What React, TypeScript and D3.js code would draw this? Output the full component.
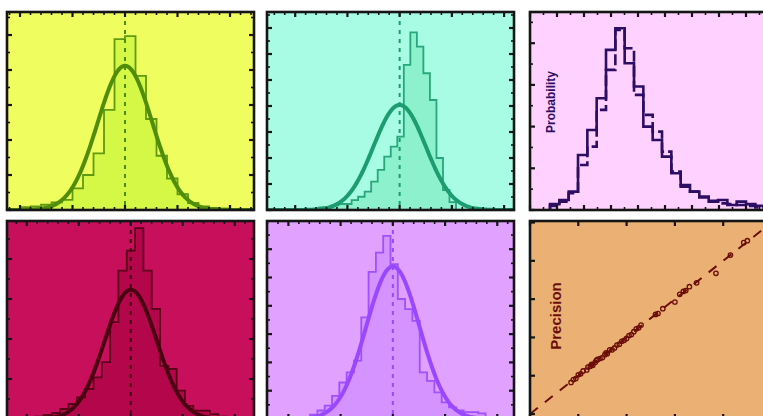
import React from "react";
import * as d3 from "d3";

const W = 763;
const H = 416;

// panel geometry (3 columns, 2 rows, right column and bottom row cut by the frame)
const colX = [7, 267, 530];
const rowY = [12, 221];
const PW = 247;
const PH = 198;

// --- panel A (yellow): histogram + gaussian fit
const aCounts = [0.08, 0.1, 0.15, 0.22, 0.29, 0.62, 1.0, 1.62, 2.86, 4.88, 4.97, 3.83, 2.6, 1.55, 0.9, 0.45, 0.2, 0.1, 0.06, 0.04];
const aBins = [-2.0, 0.2]; // first edge, width
const aFit = [0, 0.52, 4.12]; // mean, sigma, peak

// --- panel B (cyan)
const bCounts = [0.1, 0.12, 0.18, 0.23, 0.23, 0.38, 0.51, 0.71, 1.09, 1.54, 2.05, 2.44, 2.82, 5.58, 6.83, 6.28, 5.26, 4.23, 2.0, 0.77, 0.3];
const bBins = [-1.545, 0.125];
const bFit = [0, 0.5, 4.04];

// --- panel C (pink): two probability histograms
const cSolid = [0.14, 0.24, 0.44, 1.32, 1.92, 2.68, 3.84, 4.36, 3.52, 2.96, 2.0, 1.68, 1.28, 0.88, 0.6, 0.44, 0.32, 0.2, 0.24, 0.12, 0.2, 0.14, 0.1];
const cDashed = [0.1, 0.2, 0.4, 1.08, 1.52, 2.4, 3.36, 4.32, 3.88, 2.76, 2.28, 1.88, 1.4, 0.92, 0.56, 0.44, 0.3, 0.22, 0.16, 0.14, 0.12, 0.1, 0.06];
const cBins = [0.741, 0.3457];

// --- panel D (crimson)
const dCounts = [0.06, 0.1, 0.15, 0.25, 0.375, 0.54, 0.75, 1.04, 1.42, 2.42, 3.71, 4.21, 4.77, 3.71, 2.75, 1.33, 1.25, 0.71, 0.33, 0.21, 0.21, 0.12, 0.06];
const dBins = [-1.837, 0.16];
const dFit = [0, 0.5, 3.23];

// --- panel E (lavender)
const eCounts = [0.06, 0.15, 0.3, 0.47, 0.82, 1.29, 1.65, 2.06, 3.59, 5.2, 5.88, 6.47, 5.47, 4.24, 3.88, 3.47, 1.65, 1.35, 0.94, 0.59, 0.41, 0.3, 0.24, 0.24, 0.2];
const eBins = [-1.725, 0.14];
const eFit = [0, 0.51, 5.39];

// --- panel F (orange): precision scatter
const fX = [0.17, 0.18, 0.19, 0.2, 0.21, 0.22, 0.235, 0.24, 0.25, 0.255, 0.26, 0.27, 0.275, 0.28, 0.29, 0.3, 0.31, 0.315, 0.32, 0.33, 0.34, 0.35, 0.36, 0.37, 0.38, 0.39, 0.4, 0.41, 0.42, 0.43, 0.44, 0.45, 0.46, 0.52, 0.53, 0.55, 0.6, 0.62, 0.635, 0.645, 0.66, 0.69, 0.77, 0.83, 0.885, 0.9];
const fY = [0.165, 0.18, 0.185, 0.205, 0.21, 0.225, 0.23, 0.245, 0.25, 0.26, 0.255, 0.27, 0.28, 0.285, 0.29, 0.295, 0.31, 0.32, 0.315, 0.335, 0.335, 0.345, 0.36, 0.365, 0.38, 0.385, 0.395, 0.41, 0.415, 0.43, 0.445, 0.45, 0.465, 0.52, 0.525, 0.55, 0.585, 0.625, 0.64, 0.645, 0.665, 0.685, 0.735, 0.83, 0.895, 0.905];

type Sc = d3.ScaleLinear<number, number>;

function ticksOf(dom: number[], step: number) {
  const s = Math.ceil(dom[0] / step - 1e-9);
  const e = Math.floor(dom[1] / step + 1e-9);
  return d3.range(s, e + 1).map((k) => k * step);
}
const isMajor = (v: number, m: number) => Math.abs(v / m - Math.round(v / m)) < 1e-6;

function Frame(props: {
  id: string; x: number; y: number; bg: string;
  xs: Sc; ys: Sc; xt: number[]; yt: number[]; children?: React.ReactNode;
}) {
  const { id, x, y, bg, xs, ys, xt, yt } = props;
  const xx = ticksOf(xs.domain(), xt[1]);
  const yy = ticksOf(ys.domain(), yt[1]);
  const ink = "#151515";
  return (
    <g>
      <clipPath id={id}>
        <rect x={x} y={y} width={PW} height={PH} />
      </clipPath>
      <rect x={x} y={y} width={PW} height={PH} fill={bg} />
      <g clipPath={`url(#${id})`}>{props.children}</g>
      <g stroke={ink}>
        {xx.map((v, i) => {
          const L = isMajor(v, xt[0]) ? 5 : 3;
          const sw = isMajor(v, xt[0]) ? 2.2 : 1.6;
          return (
            <g key={"x" + i} strokeWidth={sw}>
              <line x1={xs(v)} x2={xs(v)} y1={y} y2={y + L} />
              <line x1={xs(v)} x2={xs(v)} y1={y + PH} y2={y + PH - L} />
            </g>
          );
        })}
        {yy.map((v, i) => {
          const L = isMajor(v, yt[0]) ? 5 : 3;
          const sw = isMajor(v, yt[0]) ? 2.2 : 1.6;
          return (
            <g key={"y" + i} strokeWidth={sw}>
              <line x1={x} x2={x + L} y1={ys(v)} y2={ys(v)} />
              <line x1={x + PW} x2={x + PW - L} y1={ys(v)} y2={ys(v)} />
            </g>
          );
        })}
      </g>
      <rect x={x} y={y} width={PW} height={PH} fill="none" stroke={ink} strokeWidth={2.6} />
    </g>
  );
}

function stepPts(counts: number[], bins: number[]): [number, number][] {
  const pts: [number, number][] = [[bins[0], 0]];
  counts.forEach((c, i) => pts.push([bins[0] + i * bins[1], c]));
  const end = bins[0] + counts.length * bins[1];
  pts.push([end, counts[counts.length - 1]]);
  pts.push([end, 0]);
  return pts;
}

function HistPanel(props: {
  id: string; col: number; row: number; xDom: number[]; yDom: number[];
  counts: number[]; bins: number[]; fit: number[];
  bg: string; fill: string; edge: string; curve: string; yt: number[];
}) {
  const x0 = colX[props.col];
  const y0 = rowY[props.row];
  const xs = d3.scaleLinear().domain(props.xDom).range([x0, x0 + PW]);
  const ys = d3.scaleLinear().domain(props.yDom).range([y0 + PH, y0]);
  const pts = stepPts(props.counts, props.bins);
  const line = d3.line<[number, number]>().x((d) => xs(d[0])).y((d) => ys(d[1])).curve(d3.curveStepAfter);
  const area = d3.area<[number, number]>().x((d) => xs(d[0])).y0(ys(0)).y1((d) => ys(d[1])).curve(d3.curveStepAfter);
  const [mu, sg, pk] = props.fit;
  const gx = d3.range(props.xDom[0], props.xDom[1], 0.02);
  const gauss = d3.line<number>().x((v) => xs(v)).y((v) => ys(pk * Math.exp(-((v - mu) ** 2) / (2 * sg * sg))));
  return (
    <Frame id={props.id} x={x0} y={y0} bg={props.bg} xs={xs} ys={ys} xt={[1, 0.2]} yt={props.yt}>
      <path d={area(pts) || ""} fill={props.fill} />
      <path d={line(pts) || ""} fill="none" stroke={props.edge} strokeWidth={1.8} />
      <line x1={xs(mu)} x2={xs(mu)} y1={y0} y2={y0 + PH} stroke={props.curve} strokeWidth={2} strokeDasharray="4 5" />
      <path d={gauss(gx) || ""} fill="none" stroke={props.curve} strokeWidth={4} strokeLinejoin="round" />
    </Frame>
  );
}

function ProbPanel() {
  const x0 = colX[2];
  const y0 = rowY[0];
  const xs = d3.scaleLinear().domain([0, PW / 27]).range([x0, x0 + PW]);
  const ys = d3.scaleLinear().domain([0, PH / 41.7]).range([y0 + PH, y0]);
  const line = d3.line<[number, number]>().x((d) => xs(d[0])).y((d) => ys(d[1])).curve(d3.curveStepAfter);
  const navy = "#2c0f64";
  return (
    <Frame id="cp" x={x0} y={y0} bg="#ffd1fe" xs={xs} ys={ys} xt={[1, 0.5]} yt={[1, 0.5]}>
      <path d={line(stepPts(cDashed, cBins)) || ""} fill="none" stroke={navy} strokeWidth={2.6} strokeDasharray="11 4" />
      <path d={line(stepPts(cSolid, cBins)) || ""} fill="none" stroke={navy} strokeWidth={2.6} />
      <text transform={`translate(${x0 + 25},${y0 + 90}) rotate(-90)`} textAnchor="middle"
        fontFamily="Liberation Sans, Arial, sans-serif" fontWeight="bold" fontSize={12} fill={navy}>
        Probability
      </text>
    </Frame>
  );
}

function PrecPanel() {
  const x0 = colX[2];
  const y0 = rowY[1];
  const xs = d3.scaleLinear().domain([0, PW / 241.5]).range([x0, x0 + PW]);
  const ys = d3.scaleLinear().domain([-0.026, 1.008]).range([y0 + PH, y0]);
  const brown = "#6b0e0a";
  return (
    <Frame id="fp" x={x0} y={y0} bg="#ebb073" xs={xs} ys={ys} xt={[0.2, 0.2]} yt={[0.2, 0.2]}>
      <line x1={xs(0)} y1={ys(0)} x2={xs(1.05)} y2={ys(1.05)} stroke={brown} strokeWidth={2} strokeDasharray="10 9" />
      {fX.map((v, i) => (
        <circle key={i} cx={xs(v)} cy={ys(fY[i])} r={2.2} fill="none" stroke={brown} strokeWidth={1.3} />
      ))}
      <text transform={`translate(${x0 + 31},${y0 + 95}) rotate(-90)`} textAnchor="middle"
        fontFamily="Liberation Sans, Arial, sans-serif" fontWeight="bold" fontSize={15} fill={brown}>
        Precision
      </text>
    </Frame>
  );
}

export default function App() {
  return (
    <svg width={W} height={H} style={{ position: "fixed", left: 0, top: 0, background: "#fff" }}>
      <HistPanel id="ap" col={0} row={0} xDom={[-2.248, 2.457]} yDom={[0, PH / 35]} yt={[1, 0.5]}
        counts={aCounts} bins={aBins} fit={aFit}
        bg="#effd5e" fill="#d5f847" edge="#5f9a10" curve="#4f8d0a" />
      <HistPanel id="bp" col={1} row={0} xDom={[-2.54, 2.19]} yDom={[0, PH / 26]} yt={[1, 0.5]}
        counts={bCounts} bins={bBins} fit={bFit}
        bg="#a7fce3" fill="#8df1cd" edge="#27a77b" curve="#1c9c6f" />
      <ProbPanel />
      <HistPanel id="dp" col={0} row={1} xDom={[-2.38, 2.37]} yDom={[0, PH / 40]} yt={[1, 0.5]}
        counts={dCounts} bins={dBins} fit={dFit}
        bg="#c70f5c" fill="#b3064b" edge="#5c0018" curve="#4a0010" />
      <HistPanel id="ep" col={1} row={1} xDom={[-2.41, 2.32]} yDom={[0, PH / 28.3]} yt={[1, 0.5]}
        counts={eCounts} bins={eBins} fit={eFit}
        bg="#e1a2ff" fill="#d493ff" edge="#a050ff" curve="#9a48ff" />
      <PrecPanel />
    </svg>
  );
}
